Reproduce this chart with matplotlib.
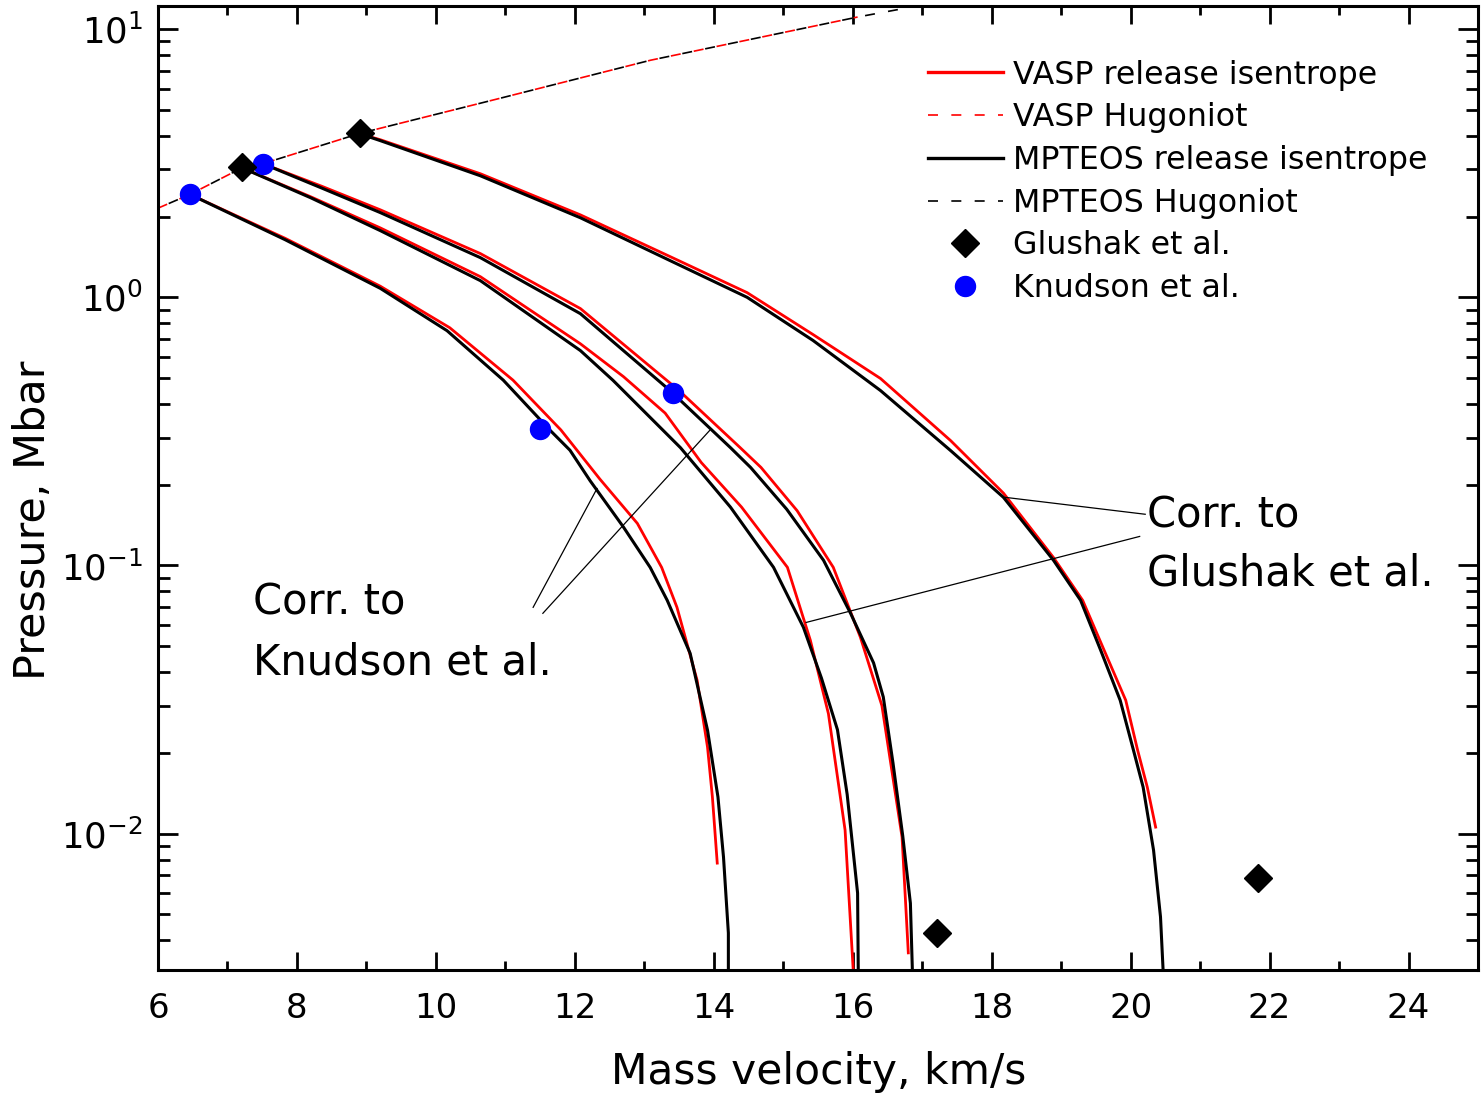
"""Release isentropes and Hugoniot: pressure vs mass velocity (VASP vs MPTEOS)."""

import matplotlib
matplotlib.use("Agg")
from matplotlib import pyplot as plt
from matplotlib.ticker import LogLocator, MultipleLocator, NullFormatter

# Hugoniot, u in km/s, P in Mbar
vasp_hug_u = [6.0, 6.46, 7.21, 7.51, 8.91, 10.93, 13.09, 16.07]
vasp_hug_p = [2.15, 2.42, 3.04, 3.15, 4.09, 5.53, 7.66, 11.1]
mpteos_hug_u = [6.0, 6.46, 7.21, 7.51, 8.91, 10.93, 13.09, 16.07, 17.0]
mpteos_hug_p = [2.15, 2.42, 3.04, 3.15, 4.09, 5.53, 7.66, 11.1, 12.3]

# MPTEOS release isentropes
mp1_u = [6.46, 7.83, 9.20, 10.16, 10.97, 11.645, 11.93, 12.22, 12.70, 13.085, 13.33, 13.66,
         13.91, 14.06, 14.14, 14.21, 14.21]
mp1_p = [2.42, 1.64, 1.08, 0.751, 0.491, 0.319, 0.269, 0.207, 0.139, 0.0983, 0.0741, 0.0470,
         0.0243, 0.0137, 0.00817, 0.00426, 0.0030]
mp2_u = [7.21, 8.20, 9.20, 10.64, 12.08, 12.55, 13.52, 14.24, 14.86, 15.29, 15.55, 15.78, 15.92,
         16.07, 16.08]
mp2_p = [3.04, 2.35, 1.773, 1.154, 0.633, 0.490, 0.275, 0.165, 0.0984, 0.0588, 0.038, 0.0244, 0.014,
         0.0060, 0.0030]
mp3_u = [7.51, 8.35, 9.20, 10.64, 12.08, 13.37, 14.24, 14.53, 15.05, 15.58, 15.97, 16.30, 16.44,
         16.58, 16.72, 16.83, 16.86]
mp3_p = [3.15, 2.56, 2.07, 1.406, 0.869, 0.449, 0.275, 0.232, 0.162, 0.1045, 0.0662, 0.0433, 0.0323,
         0.0183, 0.0098, 0.0055, 0.0030]
mp4_u = [8.91, 9.20, 10.64, 12.08, 13.37, 14.48, 15.43, 16.40, 17.41, 18.17, 18.89, 19.28, 19.57,
         19.85, 20.04, 20.18, 20.33, 20.43, 20.47]
mp4_p = [4.07, 3.84, 2.84, 1.98, 1.371, 1.0, 0.690, 0.449, 0.268, 0.1794, 0.1045, 0.0741, 0.0482,
         0.0314, 0.0205, 0.0149, 0.00867, 0.00489, 0.0030]

# VASP release isentropes
va1_u = [6.46, 7.83, 9.20, 10.20, 11.11, 11.80, 12.36, 12.90, 13.25, 13.47, 13.76, 13.91, 13.98, 14.05]
va1_p = [2.42, 1.66, 1.10, 0.77, 0.491, 0.32, 0.21, 0.1435, 0.0983, 0.0698, 0.0373, 0.0210, 0.0137,
         0.00776]
va2_u = [7.21, 8.20, 9.20, 10.64, 12.08, 12.70, 13.30, 13.82, 14.40, 15.06, 15.39, 15.65, 15.89,
         16.01]
va2_p = [3.04, 2.37, 1.815, 1.194, 0.671, 0.506, 0.37, 0.242, 0.165, 0.0984, 0.0526, 0.028, 0.0103,
         0.0030]
va3_u = [7.51, 8.35, 9.20, 10.64, 12.08, 13.50, 14.38, 14.68, 15.20, 15.72, 16.11, 16.42, 16.71,
         16.80]
va3_p = [3.15, 2.60, 2.12, 1.456, 0.908, 0.449, 0.275, 0.232, 0.16, 0.0984, 0.054, 0.030, 0.0097,
         0.00359]
va4_u = [8.91, 9.20, 10.64, 12.08, 13.37, 14.48, 15.43, 16.40, 17.41, 18.17, 18.89, 19.31, 19.62,
         19.93, 20.10, 20.24, 20.36]
va4_p = [4.07, 3.87, 2.89, 2.03, 1.419, 1.041, 0.726, 0.498, 0.292, 0.186, 0.107, 0.0741, 0.0482,
         0.0314, 0.0205, 0.0149, 0.01057]

# experiments
glushak_u = [7.21, 8.91, 17.22, 21.83]
glushak_p = [3.05, 4.09, 0.00426, 0.00683]
knudson_u = [6.46, 7.51, 11.5, 13.42]
knudson_p = [2.42, 3.14, 0.324, 0.438]

# annotation pointer lines
knudson_ptr = [([11.40, 12.32], [0.0698, 0.1937]), ([11.54, 13.94], [0.0663, 0.3186])]
glushak_ptr = [([20.21, 18.20], [0.1552, 0.1794]), ([20.13, 15.33], [0.1283, 0.0613])]

fig = plt.figure(figsize=(14.82, 10.96), dpi=100)
ax = fig.add_axes([0.1066, 0.1150, 0.8907, 0.8795])

# Hugoniots: black and red dashes interleaved
ax.plot(mpteos_hug_u, mpteos_hug_p, color="k", lw=1.2, ls=(7, (6, 8)))
ax.plot(vasp_hug_u, vasp_hug_p, color="r", lw=1.2, ls=(0, (6, 8)))

for u, p in [(va1_u, va1_p), (va2_u, va2_p), (va3_u, va3_p), (va4_u, va4_p)]:
    ax.plot(u, p, color="r", lw=2.0)
for u, p in [(mp1_u, mp1_p), (mp2_u, mp2_p), (mp3_u, mp3_p), (mp4_u, mp4_p)]:
    ax.plot(u, p, color="k", lw=2.2)

ax.plot(knudson_u, knudson_p, ls="none", marker="o", ms=14.4, color="b", mec="b")
ax.plot(glushak_u, glushak_p, ls="none", marker="D", ms=14, color="k")

for u, p in knudson_ptr + glushak_ptr:
    ax.plot(u, p, color="k", lw=0.9)

ax.text(7.37, 0.0658, "Corr. to", fontsize=30)
ax.text(7.37, 0.0393, "Knudson et al.", fontsize=30)
ax.text(20.24, 0.1387, "Corr. to", fontsize=30)
ax.text(20.24, 0.0843, "Glushak et al.", fontsize=30)

ax.set_yscale("log")
ax.set_xlim(6, 25)
ax.set_ylim(0.0031, 12.2)
ax.xaxis.set_major_locator(MultipleLocator(2))
ax.xaxis.set_minor_locator(MultipleLocator(1))
ax.yaxis.set_major_locator(LogLocator(base=10))
ax.yaxis.set_minor_locator(LogLocator(base=10, subs=range(2, 10)))
ax.yaxis.set_minor_formatter(NullFormatter())

ax.tick_params(which="both", direction="in", top=True, right=True, width=2)
ax.tick_params(axis="x", which="major", length=13, labelsize=24.5, pad=16)
ax.tick_params(axis="x", which="minor", length=6.5)
ax.tick_params(axis="y", which="major", length=14.4, labelsize=25.5, pad=11)
ax.tick_params(axis="y", which="minor", length=8.6)
for s in ax.spines.values():
    s.set_linewidth(2.2)

ax.set_xlabel("Mass velocity, km/s", fontsize=30.5)
ax.set_ylabel("Pressure, Mbar", fontsize=31)
ax.xaxis.set_label_coords(0.5004, -0.1058)
ax.xaxis.label.set_va("center")
ax.yaxis.set_label_coords(-0.0947, 0.4668)
ax.yaxis.label.set_va("center")

# legend, built in the original order
h_vr, = ax.plot([], [], color="r", lw=2.4)
h_vh, = ax.plot([], [], color="r", lw=1.2, ls=(0, (6, 8)))
h_mr, = ax.plot([], [], color="k", lw=2.4)
h_mh, = ax.plot([], [], color="k", lw=1.2, ls=(0, (6, 8)))
h_gl, = ax.plot([], [], ls="none", marker="D", ms=14, color="k")
h_kn, = ax.plot([], [], ls="none", marker="o", ms=14.4, color="b")
ax.legend([h_vr, h_vh, h_mr, h_mh, h_gl, h_kn],
          ["VASP release isentrope", "VASP Hugoniot", "MPTEOS release isentrope",
           "MPTEOS Hugoniot", "Glushak et al.", "Knudson et al."],
          loc="upper left", bbox_to_anchor=(0.583, 0.9445), frameon=False,
          borderpad=0, borderaxespad=0, fontsize=22.8, handlelength=2.37,
          handletextpad=0.32, labelspacing=0.37)

fig.savefig("out.png", dpi=100)
